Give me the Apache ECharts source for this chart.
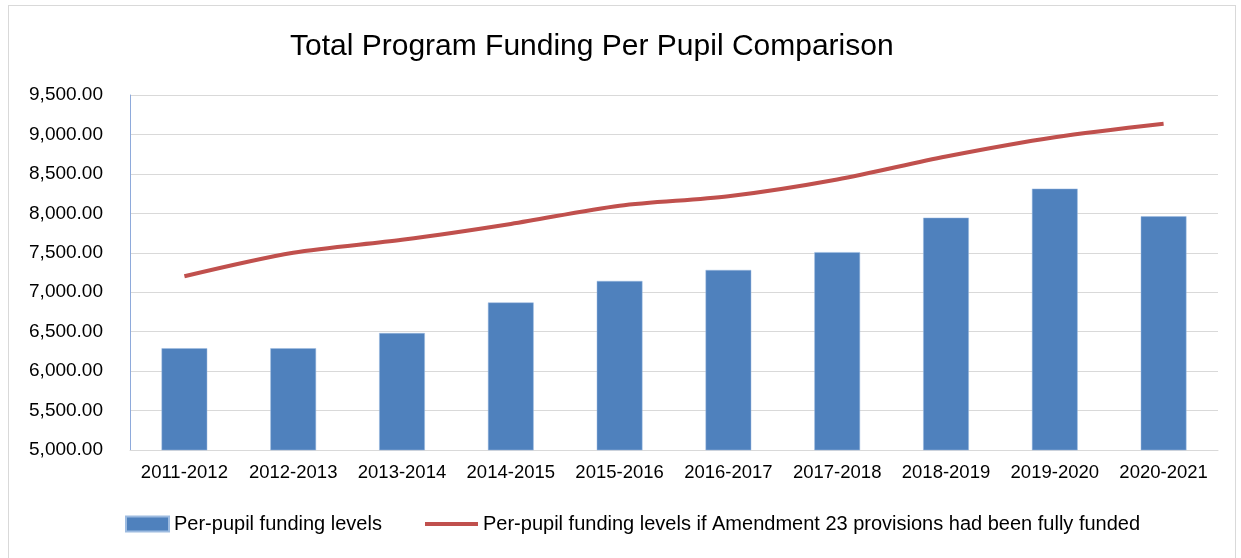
<!DOCTYPE html>
<html>
<head>
<meta charset="utf-8">
<script src="https://cdn.jsdelivr.net/npm/echarts@6/dist/echarts.min.js"></script>
<style>
html,body{margin:0;padding:0;background:#fff;}
#frame{position:absolute;left:8px;top:5px;width:1228px;height:560px;border:1px solid #d9d9d9;box-sizing:border-box;}
#chart{position:absolute;left:0;top:0;width:1241px;height:558px;}
</style>
</head>
<body>
<div id="frame"></div>
<div id="chart"></div>
<script>
const categories = ['2011-2012','2012-2013','2013-2014','2014-2015','2015-2016','2016-2017','2017-2018','2018-2019','2019-2020','2020-2021'];
const fundingLevels = [6290, 6290, 6483, 6870, 7143, 7282, 7508, 7945, 8313, 7962];
const fullyFunded = [7202, 7500, 7664, 7866, 8097, 8217, 8430, 8721, 8965, 9136];
const yTicks = {min: 5000, max: 9500, interval: 500};
const barName = 'Per-pupil funding levels';
const lineName = 'Per-pupil funding levels if Amendment 23 provisions had been fully funded';

const chart = echarts.init(document.getElementById('chart'), null, {renderer: 'canvas'});
const font = 'Liberation Sans';
chart.setOption({
  animation: false,
  backgroundColor: 'transparent',
  title: {
    text: 'Total Program Funding Per Pupil Comparison',
    left: 285, top: 27,
    textStyle: {fontFamily: font, fontSize: 30, fontWeight: 'normal', color: '#000'}
  },
  legend: [
    {
      data: [{name: barName, icon: 'rect'}],
      left: 120, top: 509,
      itemWidth: 43, itemHeight: 15, itemGap: 6,
      textStyle: {fontFamily: font, fontSize: 20, color: '#000'}
    },
    {
      data: [{name: lineName, icon: 'rect'}],
      left: 420, top: 509,
      itemWidth: 53, itemHeight: 4, itemGap: 4,
      textStyle: {fontFamily: font, fontSize: 20, color: '#000'}
    }
  ],
  grid: {left: 130, right: 23, top: 95, bottom: 108, containLabel: false},
  xAxis: {
    type: 'category',
    data: categories,
    axisTick: {show: false},
    axisLine: {show: true, lineStyle: {color: '#d9d9d9', width: 1}},
    axisLabel: {fontFamily: font, fontSize: 18.5, color: '#000', margin: 13, interval: 0, hideOverlap: false}
  },
  yAxis: {
    type: 'value',
    min: yTicks.min, max: yTicks.max, interval: yTicks.interval,
    axisLine: {show: true, lineStyle: {color: '#8eaadb', width: 1}},
    axisTick: {show: false},
    splitLine: {lineStyle: {color: '#d9d9d9', width: 1}},
    axisLabel: {
      fontFamily: font, fontSize: 19, color: '#000', margin: 27,
      formatter: v => v.toLocaleString('en-US', {minimumFractionDigits: 2, maximumFractionDigits: 2})
    }
  },
  series: [
    {
      name: barName, type: 'bar', data: fundingLevels,
      barWidth: '42%',
      itemStyle: {color: '#4f81bd', borderColor: '#9dbbe0', borderWidth: 0.5}
    },
    {
      name: lineName, type: 'line', data: fullyFunded,
      smooth: 0.3, symbol: 'none',
      lineStyle: {color: '#c0504d', width: 4},
      itemStyle: {color: '#c0504d'}
    }
  ]
});
</script>
</body>
</html>
